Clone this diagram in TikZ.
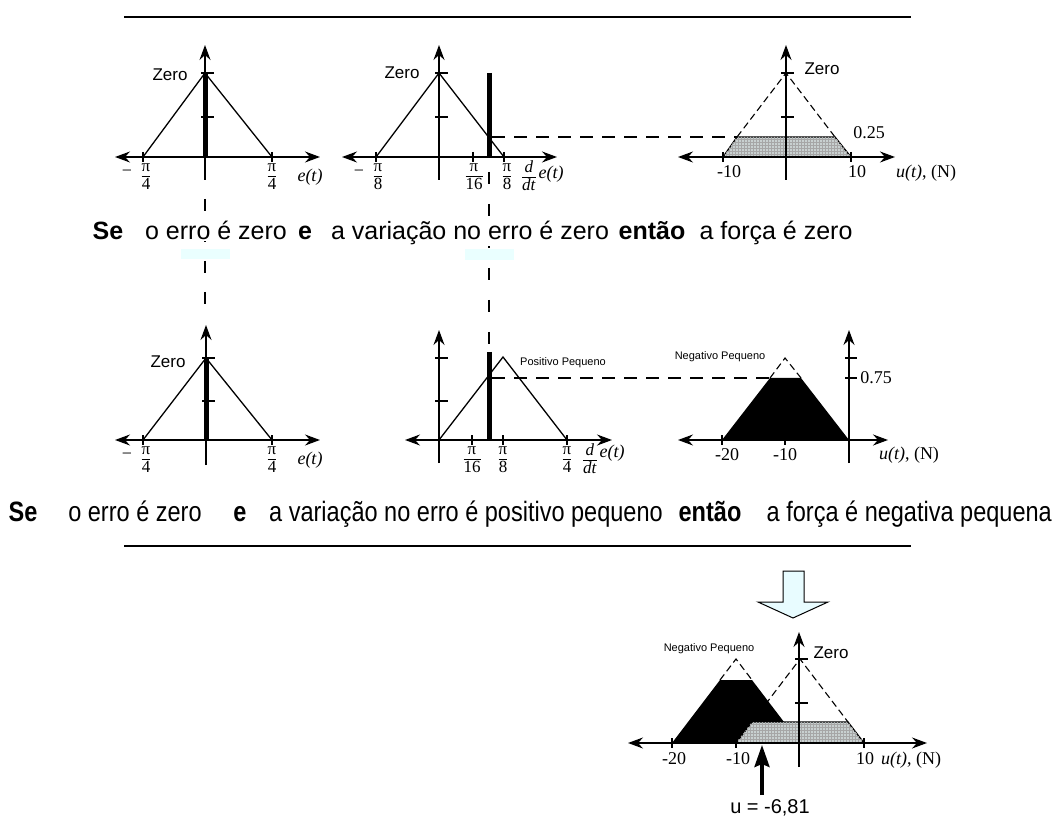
\documentclass[tikz,border=0pt]{standalone}
\usepackage{fontspec}
\usepackage{graphicx}
\setmainfont{Liberation Serif}
\newfontfamily\arial{Liberation Sans}
\usetikzlibrary{arrows.meta,patterns}
\definecolor{lcyan}{RGB}{232,252,255}
\definecolor{rectcyan}{RGB}{234,255,255}
\definecolor{dotgray}{RGB}{200,208,208}
\setlength\arrayrulewidth{1pt}
\newcommand\fr[2]{{\renewcommand\arraystretch{0.9}\begin{tabular}{@{}c@{}}#1\\[-1pt]\hline\rule{0pt}{13pt}#2\end{tabular}}}
\newcommand\ddt{\fr{\textit{d}}{\textit{dt}}}
\tikzset{
  axy/.style={line width=1.3pt,-{Stealth[length=15pt,width=11pt,inset=5pt]}},
  axx/.style={line width=1.3pt,{Stealth[length=15pt,width=11pt,inset=5pt]}-{Stealth[length=15pt,width=11pt,inset=5pt]}},
  tck/.style={line width=1.1pt},
  memb/.style={line width=1.3pt},
  membd/.style={line width=1.1pt,dash pattern=on 7pt off 4pt},
  barline/.style={line width=5pt},
  hlink/.style={line width=1.3pt,dash pattern=on 13pt off 9pt},
  vlink/.style={line width=1.3pt,dash pattern=on 12pt off 20pt},
  vlinkb/.style={line width=1.3pt,dash pattern=on 12pt off 19pt},
  sent/.style={font=\arial\fontsize{25}{30}\selectfont,inner sep=1pt,anchor=base},
  sentbf/.style={font=\arial\bfseries\fontsize{25}{30}\selectfont,inner sep=1pt,anchor=base},
  sentc/.style={font=\arial\fontsize{28}{33}\selectfont,inner sep=1pt,anchor=base},
  sentcbf/.style={font=\arial\bfseries\fontsize{28}{33}\selectfont,inner sep=1pt,anchor=base},
  zlbl/.style={font=\arial\fontsize{17}{20}\selectfont,inner sep=0pt},
  slbl/.style={font=\arial\fontsize{11}{13}\selectfont,inner sep=0pt},
  num/.style={font=\fontsize{18}{21}\selectfont,inner sep=0pt},
  fracn/.style={font=\fontsize{17}{20}\selectfont,inner sep=0pt},
  ulbl/.style={font=\fontsize{18}{21}\selectfont,inner sep=0pt},
  dotfill/.style={fill=dotgray,postaction={pattern=grid,pattern color=gray!70}},
  blockarrow/.style={fill=lcyan,draw=black,line width=1pt},
}
\newcommand\cx[1]{\scalebox{0.84}[1]{#1}}
\begin{document}
\begin{tikzpicture}[x=1pt,y=-1pt]
\useasboundingbox (0,0) rectangle (1058,826);
\fill[white] (0,0) rectangle (1058,826);

% horizontal separators
\coordinate (l1a) at (124,17); \coordinate (l1b) at (911,17);
\coordinate (l2a) at (124,546); \coordinate (l2b) at (911,546);
\draw[line width=1.3pt] (l1a) -- (l1b);
\draw[line width=1.3pt] (l2a) -- (l2b);

% vertical dashed connectors
\coordinate (v1a) at (205,168); \coordinate (v1b) at (205,310);
\coordinate (v2a) at (489,172); \coordinate (v2b) at (489,352);
\draw[vlinkb] (v1a) -- (v1b);
\draw[vlink] (v2a) -- (v2b);

% ================= G1 (top left) =================
\draw[memb] (143,157) -- (205,73) -- (272,157);
\draw[barline] (205,73) -- (205,157);
\draw[axy] (205,180) -- (205,45);
\draw[axx] (115,157) -- (320,157);
\draw[tck] (201,73) -- (214,73);
\draw[tck] (201,117) -- (214,117);
\draw[tck] (143,152) -- (143,162);
\draw[tck] (272,152) -- (272,162);
\node[zlbl] (g1zero) at (170,75) {Zero};
\node[num] (g1m) at (127,173) {−};
\node[fracn] (g1a) at (146,177) {\fr{π}{4}};
\node[fracn] (g1b) at (272,177) {\fr{π}{4}};
\node[ulbl] (g1e) at (310,177) {\textit{e(t)}};

% ================= G2 (top middle) =================
\draw[memb] (376,157) -- (439,73) -- (504,157);
\draw[barline] (489,73) -- (489,157);
\draw[axy] (439,180) -- (439,45);
\draw[axx] (342,157) -- (557,157);
\draw[tck] (435,73) -- (448,73);
\draw[tck] (435,117) -- (448,117);
\draw[tck] (376,152) -- (376,162);
\draw[tck] (473,152) -- (473,162);
\draw[tck] (504,152) -- (504,162);
\node[zlbl] (g2zero) at (402,73) {Zero};
\node[num] (g2m) at (359,173) {−};
\node[fracn] (g2a) at (378,177) {\fr{π}{8}};
\node[fracn] (g2b) at (474,177) {\fr{π}{16}};
\node[fracn] (g2c) at (507,177) {\fr{π}{8}};
\node[fracn] (g2d) at (529,178) {\ddt};
\node[ulbl] (g2e) at (551,174) {\textit{e(t)}};

% ================= G3 (top right) =================
\draw[membd] (737,137) -- (786,73) -- (835,137);
\draw[memb,dotfill] (723,157) -- (737,137) -- (835,137) -- (851,157) -- cycle;
\draw[axy] (786,180) -- (786,45);
\draw[axx] (678,157) -- (895,157);
\draw[tck] (781,73) -- (794,73);
\draw[tck] (781,117) -- (794,117);
\draw[tck] (723,152) -- (723,162);
\draw[tck] (851,152) -- (851,162);
\node[zlbl] (g3zero) at (822,69) {Zero};
\node[num] (g3v) at (869,133) {0.25};
\node[num] (g3a) at (729,172) {-10};
\node[num] (g3b) at (857,172) {10};
\node[ulbl] (g3u) at (926,173) {\textit{u(t)}, (N)};

% horizontal dashed link top
\coordinate (h1a) at (492,137); \coordinate (h1b) at (737,137);
\draw[hlink] (h1a) -- (h1b);

% ================= top sentence =================
\node[sentbf] (s1a) at (108,240) {Se};
\node[sent,fill=white] (s1b) at (216,240) {o erro é zero};
\node[sentbf] (s1c) at (305,240) {e};
\node[sent,fill=white] (s1d) at (470,240) {a variação no erro é zero};
\node[sentbf] (s1e) at (652,240) {então};
\node[sent] (s1f) at (776,240) {a força é zero};
\fill[rectcyan] (181,249) rectangle (230,259);
\fill[rectcyan] (465,249) rectangle (514,260);

% ================= G4 (bottom left) =================
\draw[memb] (143,440) -- (206,358) -- (272,440);
\draw[barline] (206,358) -- (206,440);
\draw[axy] (206,465) -- (206,325);
\draw[axx] (115,440) -- (320,440);
\draw[tck] (202,358) -- (215,358);
\draw[tck] (202,401) -- (215,401);
\draw[tck] (143,435) -- (143,445);
\draw[tck] (272,435) -- (272,445);
\node[zlbl] (g4zero) at (168,362) {Zero};
\node[num] (g4m) at (127,456) {−};
\node[fracn] (g4a) at (146,460) {\fr{π}{4}};
\node[fracn] (g4b) at (272,460) {\fr{π}{4}};
\node[ulbl] (g4e) at (310,460) {\textit{e(t)}};

% ================= G5 (bottom middle) =================
\draw[memb] (439,440) -- (503,357) -- (567,440);
\draw[barline] (489,352) -- (489,440);
\draw[axy] (439,463) -- (439,330);
\draw[axx] (405,440) -- (612,440);
\draw[tck] (435,358) -- (448,358);
\draw[tck] (435,401) -- (448,401);
\draw[tck] (472,435) -- (472,445);
\draw[tck] (503,435) -- (503,445);
\draw[tck] (567,435) -- (567,445);
\node[slbl] (g5lbl) at (563,363) {Positivo Pequeno};
\node[fracn] (g5a) at (472,460) {\fr{π}{16}};
\node[fracn] (g5b) at (503,460) {\fr{π}{8}};
\node[fracn] (g5c) at (567,460) {\fr{π}{4}};
\node[fracn] (g5d) at (590,461) {\ddt};
\node[ulbl] (g5e) at (612,453) {\textit{e(t)}};

% horizontal dashed link bottom
\coordinate (h2a) at (492,378); \coordinate (h2b) at (770,378);
\draw[hlink] (h2a) -- (h2b);

% ================= G6 (bottom right) =================
\draw[membd] (770,378) -- (785,358) -- (801,378);
\fill[black] (722,440) -- (770,378) -- (801,378) -- (849,440) -- cycle;
\draw[axy] (849,463) -- (849,330);
\draw[axx] (678,440) -- (888,440);
\draw[tck] (845,358) -- (857,358);
\draw[tck] (845,378) -- (857,378);
\draw[tck] (722,435) -- (722,445);
\draw[tck] (785,435) -- (785,445);
\node[slbl] (g6lbl) at (720,357) {Negativo Pequeno};
\node[num] (g6v) at (876,378) {0.75};
\node[num] (g6a) at (727,455) {-20};
\node[num] (g6b) at (785,455) {-10};
\node[ulbl] (g6u) at (909,455) {\textit{u(t)}, (N)};

% ================= bottom sentence =================
\node[sentcbf] (s2a) at (23,521) {\cx{Se}};
\node[sentc] (s2b) at (135,521) {\cx{o erro é zero}};
\node[sentcbf] (s2c) at (240,521) {\cx{e}};
\node[sentc] (s2d) at (466,521) {\cx{a variação no erro é positivo pequeno}};
\node[sentcbf] (s2e) at (710,521) {\cx{então}};
\node[sentc,anchor=base east] (s2f) at (1053,521) {\cx{a força é negativa pequena}};

% ================= block arrow =================
\draw[blockarrow] (783,571) -- (804,571) -- (804,602) -- (828,602) -- (793,618) -- (758,602) -- (783,602) -- cycle;

% ================= final graph =================
\draw[membd] (720,680) -- (736,659) -- (752,680);
\draw[membd] (752,722) -- (800,659) -- (848,722);
\fill[black] (672,743) -- (720,680) -- (752,680) -- (800,743) -- cycle;
\draw[memb,dotfill] (736,743) -- (752,722) -- (848,722) -- (864,743) -- cycle;
\draw[axy] (799,767) -- (799,632);
\draw[axx] (628,743) -- (927,743);
\draw[tck] (795,659) -- (808,659);
\draw[tck] (795,703) -- (808,703);
\draw[tck] (672,738) -- (672,748);
\draw[tck] (736,738) -- (736,748);
\draw[tck] (864,738) -- (864,748);
\node[slbl] (fnp) at (709,649) {Negativo Pequeno};
\node[zlbl] (fzero) at (831,653) {Zero};
\node[num] (fa) at (674,759) {-20};
\node[num] (fb) at (738,759) {-10};
\node[num] (fc) at (865,759) {10};
\node[ulbl] (fu) at (911,760) {\textit{u(t)}, (N)};

% result arrow
\node[font=\arial\fontsize{20}{24}\selectfont,inner sep=1pt] (ures) at (770,808) {u = -6,81};
\coordinate (utip) at (762,745);
\coordinate (ubase) at (762,795);
\draw[line width=3.5pt,-{Stealth[length=22pt,width=15pt,inset=3pt]}] (ubase) -- (utip);
\end{tikzpicture}
\end{document}
